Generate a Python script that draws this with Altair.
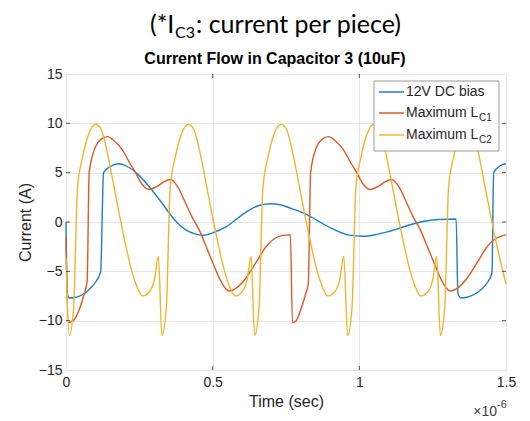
import altair as alt
import pandas as pd

# ---------------- data (time in microseconds, current in A) ----------------
t_blue = [0.000, 0.004, 0.012, 0.030, 0.060, 0.090, 0.118, 0.128, 0.150, 0.180, 0.210, 0.250,
          0.283, 0.320, 0.352, 0.380, 0.408, 0.440, 0.465, 0.500, 0.545, 0.590, 0.625, 0.660,
          0.699, 0.730, 0.770, 0.818, 0.860, 0.909, 0.960, 1.011, 1.060, 1.125, 1.170, 1.216,
          1.270, 1.330, 1.336, 1.346, 1.370, 1.400, 1.430, 1.452, 1.458, 1.480, 1.500]
v_blue = [0.0, -7.2, -7.7, -7.65, -7.3, -6.5, -5.1, 5.0, 5.6, 5.9, 5.6, 4.7,
          3.6, 2.2, 0.9, -0.1, -0.8, -1.2, -1.35, -1.1, -0.5, 0.5, 1.2, 1.7,
          1.85, 1.75, 1.35, 0.8, 0.1, -0.7, -1.3, -1.45, -1.25, -0.75, -0.3, 0.05,
          0.25, 0.3, -7.2, -7.7, -7.6, -7.2, -6.4, -5.2, 5.0, 5.7, 5.9]

t_lc1 = [0.000, 0.008, 0.025, 0.045, 0.060, 0.072, 0.079, 0.100, 0.120, 0.141, 0.165, 0.192,
         0.215, 0.238, 0.260, 0.283, 0.310, 0.335, 0.357, 0.380, 0.408, 0.430, 0.454, 0.478,
         0.500, 0.528, 0.556, 0.585, 0.613, 0.650, 0.682, 0.710, 0.738, 0.765, 0.772, 0.785,
         0.800, 0.815, 0.826, 0.834, 0.854, 0.874, 0.895, 0.919, 0.946, 0.969, 0.992, 1.014,
         1.037, 1.064, 1.089, 1.111, 1.134, 1.162, 1.184, 1.208, 1.232, 1.254, 1.282, 1.310,
         1.339, 1.367, 1.404, 1.436, 1.464, 1.492, 1.500]
v_lc1 = [-1.45, -10.2, -10.0, -8.9, -7.5, -6.0, 5.0, 7.6, 8.4, 8.65, 8.2, 7.3,
         6.1, 4.95, 3.8, 3.3, 3.6, 4.1, 4.3, 3.6, 1.9, 0.5, -0.8, -2.5,
         -4.1, -6.0, -7.0, -6.6, -5.7, -4.0, -2.5, -1.7, -1.35, -1.3, -10.2, -10.0,
         -8.9, -7.5, -6.2, 5.0, 7.6, 8.4, 8.65, 8.2, 7.3, 6.1, 4.95, 3.8,
         3.3, 3.6, 4.1, 4.3, 3.6, 1.9, 0.5, -0.8, -2.5, -4.1, -6.0, -7.0,
         -6.6, -5.7, -4.0, -2.5, -1.7, -1.35, -1.3]

t_lc2 = [0.000,
         0.011, 0.026, 0.039, 0.056, 0.076, 0.101, 0.121, 0.141, 0.161, 0.181, 0.201, 0.221,
         0.241, 0.261, 0.281, 0.301, 0.315,
         0.327, 0.342, 0.355, 0.372, 0.392, 0.417, 0.437, 0.457, 0.477, 0.497, 0.517, 0.537,
         0.557, 0.577, 0.597, 0.617, 0.631,
         0.643, 0.658, 0.671, 0.688, 0.708, 0.733, 0.753, 0.773, 0.793, 0.813, 0.833, 0.853,
         0.873, 0.893, 0.913, 0.933, 0.947,
         0.960, 0.975, 0.988, 1.005, 1.025, 1.050, 1.070, 1.090, 1.110, 1.130, 1.150, 1.170,
         1.190, 1.210, 1.230, 1.250, 1.264,
         1.276, 1.291, 1.304, 1.321, 1.341, 1.366, 1.386, 1.406, 1.426, 1.446, 1.466, 1.486,
         1.500]
v_lc2 = [-3.6,
         -11.5, -8.7, 3.4, 6.5, 8.8, 9.9, 9.3, 7.0, 4.0, 0.9, -2.0, -4.6,
         -6.5, -7.5, -7.2, -5.9, -3.5,
         -11.5, -8.7, 3.4, 6.5, 8.8, 9.9, 9.3, 7.0, 4.0, 0.9, -2.0, -4.6,
         -6.5, -7.5, -7.2, -5.9, -3.5,
         -11.5, -8.7, 3.4, 6.5, 8.8, 9.9, 9.3, 7.0, 4.0, 0.9, -2.0, -4.6,
         -6.5, -7.5, -7.2, -5.9, -3.5,
         -11.5, -8.7, 3.4, 6.5, 8.8, 9.9, 9.3, 7.0, 4.0, 0.9, -2.0, -4.6,
         -6.5, -7.5, -7.2, -5.9, -3.5,
         -11.5, -8.7, 3.4, 6.5, 8.8, 9.9, 9.3, 7.0, 4.0, 0.9, -2.0, -4.6,
         -6.3]

series_names = ["12V DC bias", "Maximum LC1", "Maximum LC2"]
series_colors = ["#1f7fc6", "#dc5a26", "#efb52c"]
x_ticks = [0, 0.5, 1, 1.5]
y_ticks = [-15, -10, -5, 0, 5, 10, 15]

df = pd.concat([
    pd.DataFrame({"t": t_blue, "v": v_blue, "series": series_names[0], "k": 0}),
    pd.DataFrame({"t": t_lc1, "v": v_lc1, "series": series_names[1], "k": 1}),
    pd.DataFrame({"t": t_lc2, "v": v_lc2, "series": series_names[2], "k": 2}),
])

W, H = 440, 296
FONT = "Liberation Sans"
TXT = "#262626"

xs = alt.Scale(domain=[0, 1.5], nice=False, zero=False)
ys = alt.Scale(domain=[-15, 15], nice=False, zero=False)

lines = alt.Chart(df).mark_line(strokeWidth=1.4, interpolate="monotone").encode(
    x=alt.X("t:Q", scale=xs, axis=alt.Axis(values=x_ticks, format=".1~f", title="Time (sec)",
                                           ticks=False, domain=False, labelPadding=5,
                                           titlePadding=4, labelFontSize=14, titleFontSize=16,
                                           labelFont=FONT, titleFont=FONT, labelColor=TXT,
                                           titleColor=TXT, titleFontWeight="normal",
                                           gridColor="#e6e6e6", labelFlush=False)),
    y=alt.Y("v:Q", scale=ys, axis=alt.Axis(values=y_ticks, title="Current (A)",
                                           ticks=False, domain=False, labelPadding=4,
                                           titlePadding=5, labelFontSize=14, titleFontSize=16,
                                           labelFont=FONT, titleFont=FONT, labelColor=TXT,
                                           titleColor=TXT, titleFontWeight="normal",
                                           gridColor="#e6e6e6", labelFlush=False)),
    color=alt.Color("series:N", scale=alt.Scale(domain=series_names, range=series_colors),
                    legend=None),
    order=alt.Order("k:Q"),
)

one = pd.DataFrame({"a": [0]})

# inward tick marks (MATLAB style)
tk_x = pd.DataFrame({"t": [0.5, 1.0]})
ticks_bottom = alt.Chart(tk_x).mark_rule(color="#555", strokeWidth=1).encode(
    x=alt.X("t:Q", scale=xs), y=alt.value(H), y2=alt.value(H - 4))
ticks_top = alt.Chart(tk_x).mark_rule(color="#555", strokeWidth=1).encode(
    x=alt.X("t:Q", scale=xs), y=alt.value(0), y2=alt.value(4))
tk_y = pd.DataFrame({"v": [-10, -5, 0, 5, 10]})
ticks_left = alt.Chart(tk_y).mark_rule(color="#555", strokeWidth=1).encode(
    y=alt.Y("v:Q", scale=ys), x=alt.value(0), x2=alt.value(4))
ticks_right = alt.Chart(tk_y).mark_rule(color="#555", strokeWidth=1).encode(
    y=alt.Y("v:Q", scale=ys), x=alt.value(W), x2=alt.value(W - 4))

# legend box
leg_box = alt.Chart(one).mark_rect(fill="white", stroke="#9a9a9a", strokeWidth=1).encode(
    x=alt.value(308), x2=alt.value(433), y=alt.value(7), y2=alt.value(77))
leg_layers = [leg_box]
leg_y = [18, 39, 61]
for i, (nm, col) in enumerate(zip(series_names, series_colors)):
    leg_layers.append(alt.Chart(one).mark_rule(color=col, strokeWidth=1.5).encode(
        x=alt.value(313), x2=alt.value(338), y=alt.value(leg_y[i])))
leg_layers.append(alt.Chart(one).mark_text(align="left", baseline="middle", font=FONT,
                                           fontSize=14, color=TXT).encode(
    x=alt.value(340), y=alt.value(leg_y[0]), text=alt.value("12V DC bias")))
for i, sub in [(1, "C1"), (2, "C2")]:
    leg_layers.append(alt.Chart(one).mark_text(align="left", baseline="middle", font=FONT,
                                               fontSize=14, color=TXT).encode(
        x=alt.value(340), y=alt.value(leg_y[i]), text=alt.value("Maximum L")))
    leg_layers.append(alt.Chart(one).mark_text(align="left", baseline="middle", font=FONT,
                                               fontSize=10, color=TXT).encode(
        x=alt.value(413), y=alt.value(leg_y[i] + 5), text=alt.value(sub)))

# titles
title_layers = [
    alt.Chart(one).mark_text(align="center", baseline="alphabetic", font=FONT, fontSize=16,
                             fontWeight="bold", color="#000").encode(
        x=alt.value(209), y=alt.value(-10), text=alt.value("Current Flow in Capacitor 3 (10uF)")),
    alt.Chart(one).mark_text(align="left", baseline="alphabetic", font="Lato", fontSize=25,
                             color="#000").encode(
        x=alt.value(84), y=alt.value(-41), text=alt.value("(*I")),
    alt.Chart(one).mark_text(align="left", baseline="alphabetic", font="Lato", fontSize=16,
                             color="#000").encode(
        x=alt.value(109), y=alt.value(-36), text=alt.value("C3")),
    alt.Chart(one).mark_text(align="left", baseline="alphabetic", font="Lato", fontSize=25,
                             color="#000").encode(
        x=alt.value(130), y=alt.value(-41), text=alt.value(": current per piece)")),
    # exponent label
    alt.Chart(one).mark_text(align="right", baseline="alphabetic", font=FONT, fontSize=14,
                             color="#404040").encode(
        x=alt.value(431), y=alt.value(342), text=alt.value("\u00d710")),
    alt.Chart(one).mark_text(align="left", baseline="alphabetic", font=FONT, fontSize=11,
                             color="#404040").encode(
        x=alt.value(431), y=alt.value(334), text=alt.value("-6")),
]

chart = alt.layer(lines, ticks_bottom, ticks_top, ticks_left, ticks_right,
                  *leg_layers, *title_layers).properties(
    width=W, height=H,
    autosize=alt.AutoSizeParams(type="none"),
    padding={"left": 58, "top": 66, "right": 16, "bottom": 48},
    background="white",
).configure_view(stroke="#8c8c8c", strokeWidth=1)

chart.save("out.html", embed_options={"renderer": "svg", "actions": False})
